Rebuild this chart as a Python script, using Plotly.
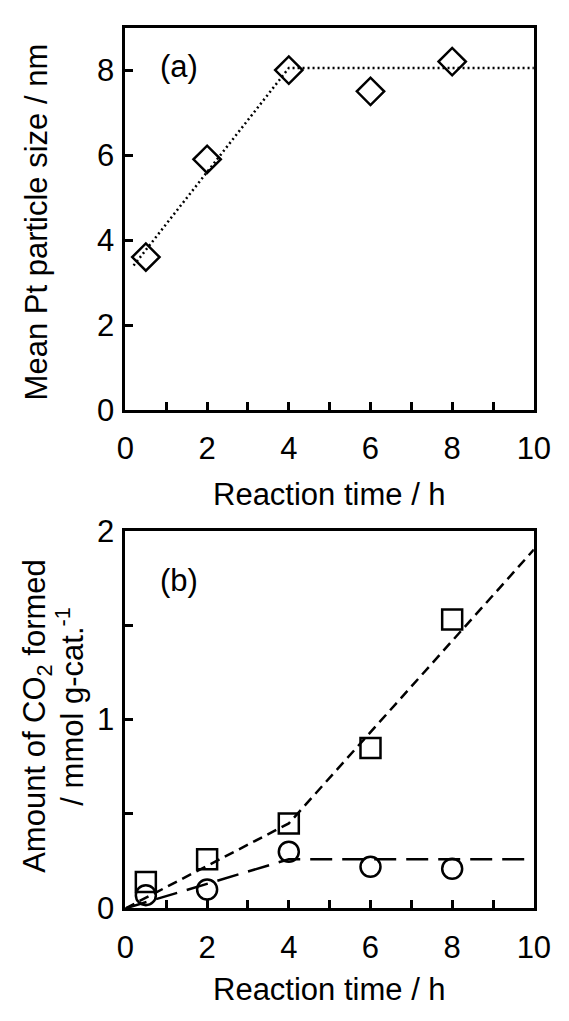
import plotly.graph_objects as go

# ---- data ----
time_a = [0.5, 2, 4, 6, 8]
size_a = [3.6, 5.9, 8.0, 7.5, 8.2]
fit_a_x = [0.2, 4.0, 10]
fit_a_y = [3.4, 8.05, 8.05]

time_b = [0.5, 2, 4, 6, 8]
co2_sq = [0.14, 0.26, 0.45, 0.85, 1.53]
co2_ci = [0.07, 0.10, 0.30, 0.22, 0.21]
fit_sq_x = [0, 4, 10]
fit_sq_y = [0.0, 0.45, 1.9]
fit_ci_x = [0, 4, 10]
fit_ci_y = [0.0, 0.26, 0.26]

xticks = [0, 2, 4, 6, 8, 10]
yticks_a = [0, 2, 4, 6, 8]
yticks_b = [0, 1, 2]

FONT = "Arial, Liberation Sans, sans-serif"
W, H = 569, 1021
TICK_SIZE = 31
TITLE_SIZE = 31

fig = go.Figure()

# panel (a)
fig.add_trace(go.Scatter(x=fit_a_x, y=fit_a_y, mode="lines",
                         line=dict(color="black", width=2.5, dash="2px,3px"),
                         xaxis="x", yaxis="y", showlegend=False))
fig.add_trace(go.Scatter(x=time_a, y=size_a, mode="markers",
                         marker=dict(symbol="diamond-open", size=21, color="black",
                                     line=dict(width=2.5, color="black")),
                         xaxis="x", yaxis="y", showlegend=False))

# panel (b)
fig.add_trace(go.Scatter(x=fit_sq_x, y=fit_sq_y, mode="lines",
                         line=dict(color="black", width=2.5, dash="10px,6px"),
                         xaxis="x2", yaxis="y2", showlegend=False))
fig.add_trace(go.Scatter(x=fit_ci_x, y=fit_ci_y, mode="lines",
                         line=dict(color="black", width=2.5, dash="22px,10px"),
                         xaxis="x2", yaxis="y2", showlegend=False))
fig.add_trace(go.Scatter(x=time_b, y=co2_sq, mode="markers",
                         marker=dict(symbol="square-open", size=20, color="black",
                                     line=dict(width=2.5, color="black")),
                         xaxis="x2", yaxis="y2", showlegend=False))
fig.add_trace(go.Scatter(x=time_b, y=co2_ci, mode="markers",
                         marker=dict(symbol="circle-open", size=20, color="black",
                                     line=dict(width=2.5, color="black")),
                         xaxis="x2", yaxis="y2", showlegend=False))

xdom = [122 / W, 550 / W]
ydom_a = [1 - 407 / H, 1 - 11 / H]
ydom_b = [1 - 923 / H, 1 - 532 / H]

axis_common = dict(showline=True, linewidth=3, linecolor="black", mirror=True,
                   ticks="inside", ticklen=8, tickwidth=2.5, tickcolor="black",
                   showgrid=False, zeroline=False,
                   tickfont=dict(family=FONT, size=TICK_SIZE, color="black"))
minor_x = dict(dtick=1, ticks="inside", ticklen=8, tickwidth=2.5, tickcolor="black")

fig.update_layout(
    width=W, height=H, margin=dict(l=0, r=0, t=0, b=0),
    paper_bgcolor="white", plot_bgcolor="white",
    xaxis=dict(domain=xdom, range=[0, 10], tickvals=xticks, anchor="y",
               minor=minor_x, ticklabelstandoff=9, **axis_common),
    yaxis=dict(domain=ydom_a, range=[0, 9], tickvals=yticks_a, anchor="x",
               ticklabelstandoff=2, **axis_common),
    xaxis2=dict(domain=xdom, range=[0, 10], tickvals=xticks, anchor="y2",
                minor=minor_x, ticklabelstandoff=9, **axis_common),
    yaxis2=dict(domain=ydom_b, range=[0, 2], tickvals=yticks_b, anchor="x2",
                ticklabelstandoff=2,
                minor=dict(dtick=0.5, ticks="inside", ticklen=8, tickwidth=2.5, tickcolor="black"),
                **axis_common),
)

def ann(text, x, y, angle=0, size=TITLE_SIZE):
    fig.add_annotation(text=text, x=x / W, y=1 - y / H, xref="paper", yref="paper",
                       showarrow=False, textangle=angle,
                       font=dict(family=FONT, size=size, color="black"),
                       xanchor="center", yanchor="middle")

ann("(a)", 178, 51)
ann("(b)", 178, 583)
ann("Reaction time / h", 336, 494)
ann("Reaction time / h", 336, 1007)
ann("Mean Pt particle size / nm", 29, 212, angle=-90)
ann("Amount of CO<sub>2</sub> formed", 30, 724, angle=-90)
ann("/ mmol g-cat.<sup>-1</sup>", 63, 714, angle=-90)

fig.write_html("out.html")
